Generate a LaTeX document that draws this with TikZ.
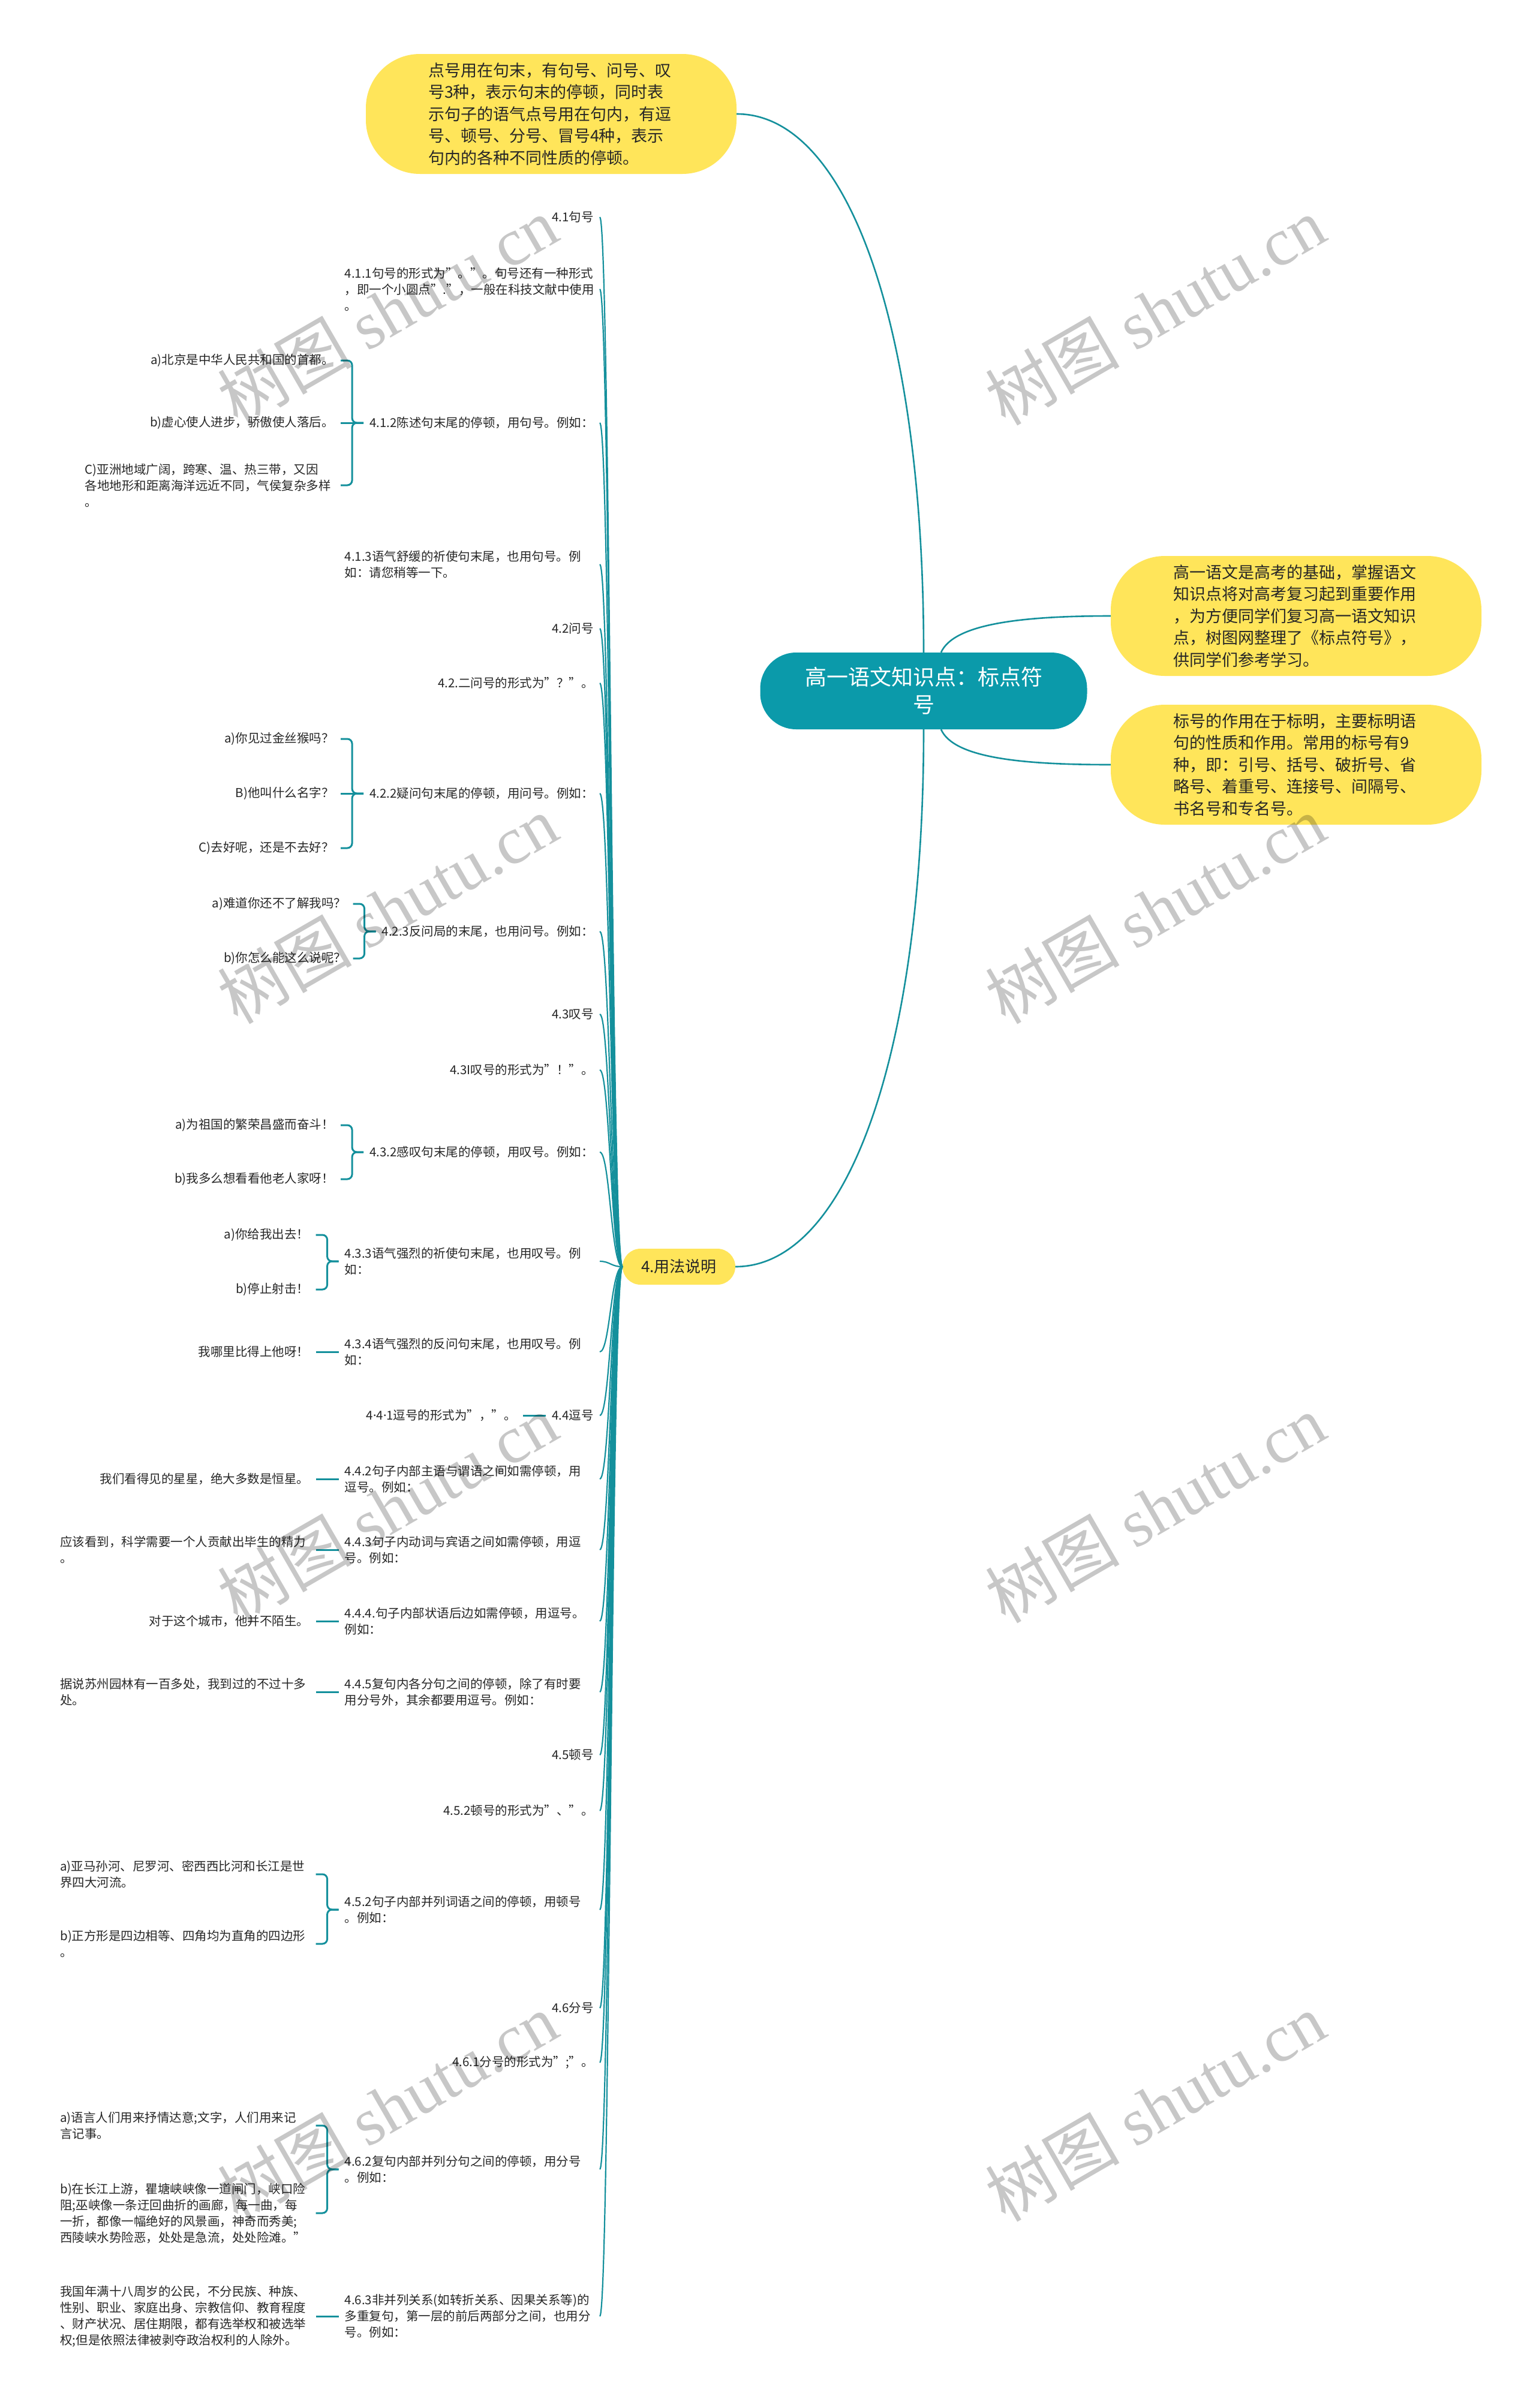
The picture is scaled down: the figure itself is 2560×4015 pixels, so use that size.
\documentclass[tikz,border=0pt]{standalone}
\usepackage{fontspec}
\setmainfont{Noto Sans CJK SC}
\newfontfamily\wmfont{Liberation Serif}
\newfontfamily\latinfont{Noto Sans}
\usetikzlibrary{positioning}
\definecolor{teal main}{HTML}{0B9AAA}
\definecolor{teal line}{HTML}{14909C}
\definecolor{bubble}{HTML}{FFE55A}
\newcommand{\middot}{{\latinfont ·}}
\begin{document}
\begin{tikzpicture}[x=1pt, y=-1pt]
            % 定义样式
            \tikzstyle{root node}=[fill=teal main, text=white, rounded corners=60pt, minimum width=545pt, minimum height=128pt, align=center, font=\fontsize{36}{46}\selectfont]
            \tikzstyle{note}=[fill=bubble, text=black!85, rounded corners=90pt, minimum width=618pt, minimum height=200pt, text width=410pt, align=left, font=\fontsize{27}{36.5}\selectfont]
            \tikzstyle{usage node}=[fill=bubble, text=black!85, rounded corners=30pt, minimum width=188pt, minimum height=60pt, font=\fontsize{26}{30}\selectfont]
            \tikzstyle{lvl2}=[inner xsep=10pt, inner ysep=2pt, text=black!85, anchor=east, font=\fontsize{20.5}{27}\selectfont]
            \tikzstyle{lvl2 wide}=[lvl2, text width=415pt, align=left]
            \tikzstyle{lvl3}=[lvl2, inner xsep=11pt]
            \tikzstyle{lvl3 wide}=[lvl3, text width=415pt, align=left]
            \tikzstyle{main}=[draw=teal line, line width=2.6pt]
            \tikzstyle{branch}=[draw=teal line, line width=2.2pt]
            \tikzstyle{brace}=[draw=teal line, line width=3pt, rounded corners=8pt]
            \tikzstyle{wmark}=[rotate=30, text=black, text opacity=0.22, font=\fontsize{112}{112}\selectfont]

            \useasboundingbox (0,0) rectangle (2560,4015);

            % 中心主题与说明
            \node[root node] (root) at (1540,1152) {高一语文知识点：标点符\\号};
            \node[note] (top) at (919,190) {点号用在句末，有句号、问号、叹\\号3种，表示句末的停顿，同时表\\示句子的语气点号用在句内，有逗\\号、顿号、分号、冒号4种，表示\\句内的各种不同性质的停顿。};
            \node[note] (info1) at (2161,1027) {高一语文是高考的基础，掌握语文\\知识点将对高考复习起到重要作用\\，为方便同学们复习高一语文知识\\点，树图网整理了《标点符号》，\\供同学们参考学习。};
            \node[note] (info2) at (2161,1275) {标号的作用在于标明，主要标明语\\句的性质和作用。常用的标号有9\\种，即：引号、括号、破折号、省\\略号、着重号、连接号、间隔号、\\书名号和专名号。};
            \node[usage node] (usage) at (1132,2112) {4.用法说明};

            \draw[main] (top.east) .. controls +(190,0) and +(0,-530) .. (root.north);
            \draw[main] (root.south) .. controls +(0,530) and +(190,0) .. (usage.east);
            \draw[main] ([xshift=29pt]root.north) .. controls +(21,-47) and +(-152,0) .. (info1.west);
            \draw[main] ([xshift=29pt]root.south) .. controls +(21,47) and +(-152,0) .. (info2.west);

            % 4.1 句号
            \node[lvl2] (a1) at (1000,362) {4.1句号};
            \node[lvl2 wide] (a2) at (1000,482) {4.1.1句号的形式为"。"。句号还有一种形式\\，即一个小圆点"."，一般在科技文献中使用\\。};
            \node[lvl2] (a3) at (1000,705) {4.1.2陈述句末尾的停顿，用句号。例如：};
            \node[lvl2 wide] (a4) at (1000,941) {4.1.3语气舒缓的祈使句末尾，也用句号。例\\如：请您稍等一下。};
            % 4.2 问号
            \node[lvl2] (b1) at (1000,1048) {4.2问号};
            \node[lvl2] (b2) at (1000,1139) {4.2.二问号的形式为"？"。};
            \node[lvl2] (b3) at (1000,1323) {4.2.2疑问句末尾的停顿，用问号。例如：};
            \node[lvl2] (b4) at (1000,1553) {4.2.3反问局的末尾，也用问号。例如：};
            % 4.3 叹号
            \node[lvl2] (c1) at (1000,1691) {4.3叹号};
            \node[lvl2] (c2) at (1000,1784) {4.3I叹号的形式为"！"。};
            \node[lvl2] (c3) at (1000,1921) {4.3.2感叹句末尾的停顿，用叹号。例如：};
            \node[lvl2 wide] (c4) at (1000,2103) {4.3.3语气强烈的祈使句末尾，也用叹号。例\\如：};
            \node[lvl2 wide] (c5) at (1000,2254) {4.3.4语气强烈的反问句末尾，也用叹号。例\\如：};
            % 4.4 逗号
            \node[lvl2] (d1) at (1000,2360) {4.4逗号};
            \node[lvl2 wide] (d2) at (1000,2466) {4.4.2句子内部主语与谓语之间如需停顿，用\\逗号。例如：};
            \node[lvl2 wide] (d3) at (1000,2584) {4.4.3句子内动词与宾语之间如需停顿，用逗\\号。例如：};
            \node[lvl2 wide] (d4) at (1000,2703) {4.4.4.句子内部状语后边如需停顿，用逗号。\\例如：};
            \node[lvl2 wide] (d5) at (1000,2821) {4.4.5复句内各分句之间的停顿，除了有时要\\用分号外，其余都要用逗号。例如：};
            % 4.5 顿号
            \node[lvl2] (e1) at (1000,2926) {4.5顿号};
            \node[lvl2] (e2) at (1000,3019) {4.5.2顿号的形式为"、"。};
            \node[lvl2 wide] (e3) at (1000,3184) {4.5.2句子内部并列词语之间的停顿，用顿号\\。例如：};
            % 4.6 分号
            \node[lvl2] (f1) at (1000,3348) {4.6分号};
            \node[lvl2] (f2) at (1000,3439) {4.6.1分号的形式为";"。};
            \node[lvl2 wide] (f3) at (1000,3617) {4.6.2复句内部并列分句之间的停顿，用分号\\。例如：};
            \node[lvl2 wide] (f4) at (1000,3862) {4.6.3非并列关系(如转折关系、因果关系等)的\\多重复句，第一层的前后两部分之间，也用分\\号。例如：};

            % 主干曲线
            \foreach \n in {a1,a2,a3,a4,b1,b2,b3,b4,c1,c2,c3,c4,c5,d1,d2,d3,d4,d5,e1,e2,e3,f1,f2,f3,f4}
                \draw[branch] (usage.west) .. controls +(-19,0) and +(17,0) .. (\n.east);

            % 例句
            \node[lvl3, left=38pt of a3, yshift=104pt] (a3a) {a)北京是中华人民共和国的首都。};
            \node[lvl3, left=38pt of a3] (a3b) {b)虚心使人进步，骄傲使人落后。};
            \node[lvl3 wide, left=38pt of a3, yshift=-104pt] (a3c) {C)亚洲地域广阔，跨寒、温、热三带，又因\\各地地形和距离海洋远近不同，气侯复杂多样\\。};
            \node[lvl3, left=38pt of b3, yshift=91pt] (b3a) {a)你见过金丝猴吗？};
            \node[lvl3, left=38pt of b3] (b3b) {B)他叫什么名字？};
            \node[lvl3, left=38pt of b3, yshift=-91pt] (b3c) {C)去好呢，还是不去好？};
            \node[lvl3, left=38pt of b4, yshift=46pt] (b4a) {a)难道你还不了解我吗？};
            \node[lvl3, left=38pt of b4, yshift=-45pt] (b4b) {b)你怎么能这么说呢？};
            \node[lvl3, left=38pt of c3, yshift=45pt] (c3a) {a)为祖国的繁荣昌盛而奋斗！};
            \node[lvl3, left=38pt of c3, yshift=-45pt] (c3b) {b)我多么想看看他老人家呀！};
            \node[lvl3, left=38pt of c4, yshift=44pt] (c4a) {a)你给我出去！};
            \node[lvl3, left=38pt of c4, yshift=-47pt] (c4b) {b)停止射击！};
            \node[lvl3, left=38pt of c5] (c5a) {我哪里比得上他呀！};
            \node[lvl3, left=38pt of d1] (d1a) {4\middot4\middot1逗号的形式为"，"。};
            \node[lvl3, left=38pt of d2] (d2a) {我们看得见的星星，绝大多数是恒星。};
            \node[lvl3 wide, left=38pt of d3] (d3a) {应该看到，科学需要一个人贡献出毕生的精力\\。};
            \node[lvl3, left=38pt of d4] (d4a) {对于这个城市，他并不陌生。};
            \node[lvl3 wide, left=38pt of d5] (d5a) {据说苏州园林有一百多处，我到过的不过十多\\处。};
            \node[lvl3 wide, left=38pt of e3, yshift=59pt] (e3a) {a)亚马孙河、尼罗河、密西西比河和长江是世\\界四大河流。};
            \node[lvl3 wide, left=38pt of e3, yshift=-57pt] (e3b) {b)正方形是四边相等、四角均为直角的四边形\\。};
            \node[lvl3 wide, left=38pt of f3, yshift=73pt] (f3a) {a)语言人们用来抒情达意;文字，人们用来记\\言记事。};
            \node[lvl3 wide, left=38pt of f3, yshift=-73pt] (f3b) {b)在长江上游，瞿塘峡峡像一道闸门，峡口险\\阻;巫峡像一条迂回曲折的画廊，每一曲，每\\一折，都像一幅绝好的风景画，神奇而秀美;\\西陵峡水势险恶，处处是急流，处处险滩。"};
            \node[lvl3 wide, left=38pt of f4] (f4a) {我国年满十八周岁的公民，不分民族、种族、\\性别、职业、家庭出身、宗教信仰、教育程度\\、财产状况、居住期限，都有选举权和被选举\\权;但是依照法律被剥夺政治权利的人除外。};

            % 括号连线
            \foreach \p/\c in {a3/a3a,a3/a3c,b3/b3a,b3/b3c,b4/b4a,b4/b4b,c3/c3a,c3/c3b,c4/c4a,c4/c4b,e3/e3a,e3/e3b,f3/f3a,f3/f3b}
                \draw[brace] (\p.west) -- ++(-19,0) |- (\c.east);
            \foreach \p/\c in {a3/a3b,b3/b3b,c5/c5a,d1/d1a,d2/d2a,d3/d3a,d4/d4a,d5/d5a,f4/f4a}
                \draw[brace] (\p.west) -- (\c.east);

            % 水印
            \foreach \wx in {646,1926}
                \foreach \wy in {518,1516,2515,3513}
                    \node[wmark] (wm-\wx-\wy) at (\wx,\wy) {树图 {\wmfont shutu.cn}};
        \end{tikzpicture}
\end{document}
